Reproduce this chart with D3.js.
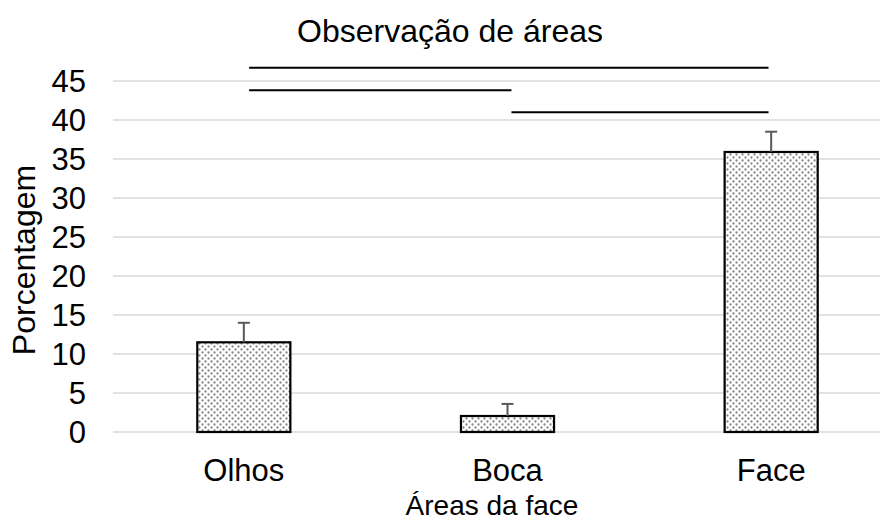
<!DOCTYPE html>
<html>
<head>
<meta charset="utf-8">
<script src="https://cdn.jsdelivr.net/npm/d3@7"></script>
<style>
  body { margin: 0; background: #fff; }
  text { font-family: "Liberation Sans", Arial, sans-serif; fill: #000; }
</style>
</head>
<body>
<div id="chart"></div>
<script>
// dados
const categories = ["Olhos", "Boca", "Face"];
const values = [11.5, 2.05, 35.9];
const errors = [2.5, 1.55, 2.6];
const yTicks = [0, 5, 10, 15, 20, 25, 30, 35, 40, 45];
// linhas de comparação: posição em índice de categoria e altura em %
const compFrom = [0.02, 0.02, 1.015];
const compTo = [1.99, 1.015, 1.99];
const compY = [46.7, 43.8, 41.0];

const width = 888, height = 526;

const svg = d3.select("#chart").append("svg")
    .attr("width", width)
    .attr("height", height);

// padrão pontilhado das barras
const defs = svg.append("defs");
const pat = defs.append("pattern")
    .attr("id", "dots")
    .attr("patternUnits", "userSpaceOnUse")
    .attr("width", 6)
    .attr("height", 6);
pat.append("rect").attr("width", 6).attr("height", 6).attr("fill", "#fff");
pat.append("circle").attr("cx", 1.5).attr("cy", 1.5).attr("r", 1.15).attr("fill", "#858585");
pat.append("circle").attr("cx", 4.5).attr("cy", 4.5).attr("r", 1.15).attr("fill", "#858585");

const y = d3.scaleLinear().domain([0, 45]).range([432, 81]);
const x = d3.scaleBand().domain(categories).range([112, 903]).padding(0);
const xi = d3.scaleLinear().domain([0, 2]).range([112 + x.bandwidth() / 2, 112 + x.bandwidth() * 2.5]);
const barW = x.bandwidth() * 0.353;

// grade
svg.append("g")
    .selectAll("line")
    .data(yTicks)
    .enter().append("line")
    .attr("x1", 113)
    .attr("x2", 880)
    .attr("y1", d => y(d))
    .attr("y2", d => y(d))
    .attr("stroke", "#d9d9d9")
    .attr("stroke-width", 1.5);

// rótulos do eixo y
svg.append("g")
    .selectAll("text")
    .data(yTicks)
    .enter().append("text")
    .attr("x", 86)
    .attr("y", d => y(d))
    .attr("dy", "0.35em")
    .attr("text-anchor", "end")
    .style("font-size", "31px")
    .text(d => d);

// barras
svg.append("g")
    .selectAll("rect")
    .data(values)
    .enter().append("rect")
    .attr("x", (d, i) => x(categories[i]) + x.bandwidth() / 2 - barW / 2)
    .attr("y", d => y(d))
    .attr("width", barW)
    .attr("height", d => y(0) - y(d))
    .attr("fill", "url(#dots)")
    .attr("stroke", "#000")
    .attr("stroke-width", 2.2);

// barras de erro
const err = svg.append("g").attr("stroke", "#595959").attr("stroke-width", 2);
values.forEach((v, i) => {
    const cx = x(categories[i]) + x.bandwidth() / 2;
    err.append("line")
        .attr("x1", cx).attr("x2", cx)
        .attr("y1", y(v)).attr("y2", y(v + errors[i]));
    err.append("line")
        .attr("x1", cx - 6).attr("x2", cx + 6)
        .attr("y1", y(v + errors[i])).attr("y2", y(v + errors[i]));
});

// linhas de significância
svg.append("g")
    .selectAll("line")
    .data(compY)
    .enter().append("line")
    .attr("x1", (d, i) => xi(compFrom[i]))
    .attr("x2", (d, i) => xi(compTo[i]))
    .attr("y1", d => y(d))
    .attr("y2", d => y(d))
    .attr("stroke", "#000")
    .attr("stroke-width", 2);

// rótulos das categorias
svg.append("g")
    .selectAll("text")
    .data(categories)
    .enter().append("text")
    .attr("x", d => x(d) + x.bandwidth() / 2)
    .attr("y", 481)
    .attr("text-anchor", "middle")
    .style("font-size", "31px")
    .text(d => d);

// títulos
svg.append("text")
    .attr("x", 450)
    .attr("y", 42)
    .attr("text-anchor", "middle")
    .style("font-size", "32px")
    .text("Observação de áreas");

svg.append("text")
    .attr("x", 492)
    .attr("y", 515)
    .attr("text-anchor", "middle")
    .style("font-size", "28px")
    .text("Áreas da face");

svg.append("text")
    .attr("transform", "translate(35,260) rotate(-90)")
    .attr("text-anchor", "middle")
    .style("font-size", "32px")
    .text("Porcentagem");
</script>
</body>
</html>
